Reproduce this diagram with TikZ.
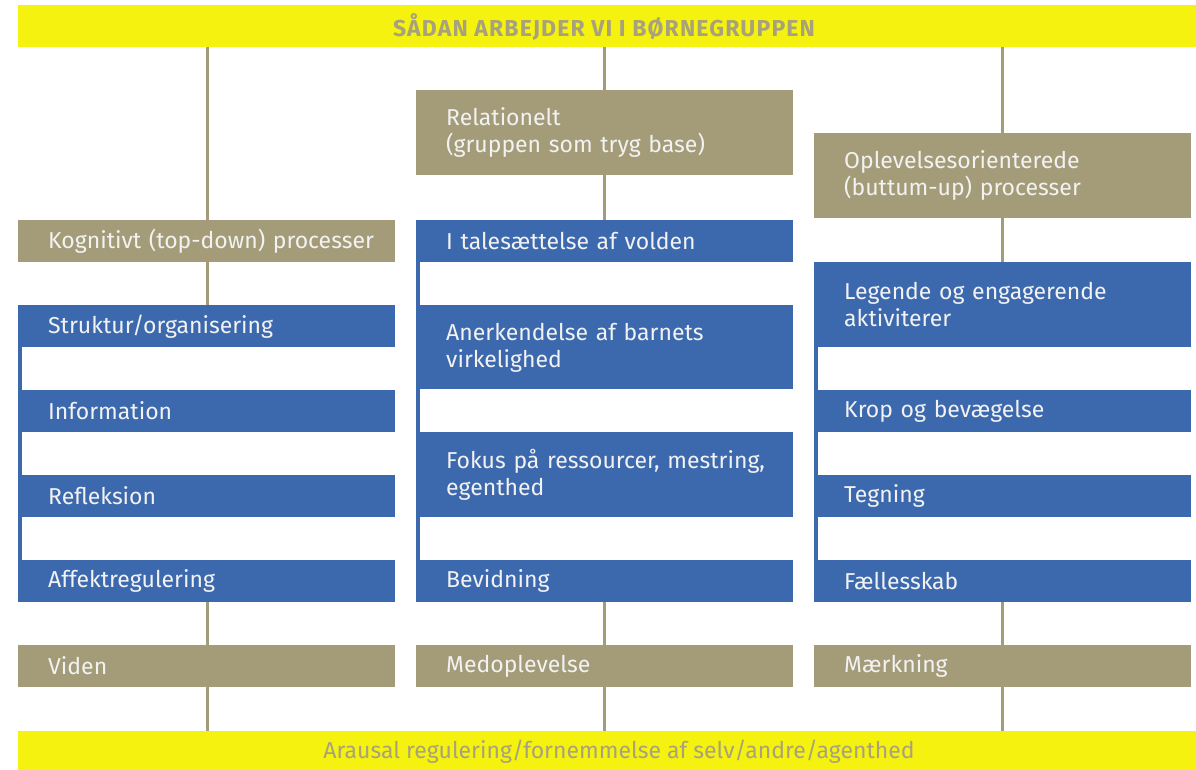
\documentclass[tikz,border=0pt]{standalone}
\usepackage{fontspec}
\setmainfont{Fira Sans}
\definecolor{bar}{HTML}{F5F20F}
\definecolor{taupe}{HTML}{A49C79}
\definecolor{bblue}{HTML}{3C69AE}
\definecolor{btext}{HTML}{F2F2F2}
\definecolor{titletext}{HTML}{A8A27C}
\begin{document}
\begin{tikzpicture}[x=1pt,y=-1pt,
  box/.style={anchor=north west, inner xsep=15pt, inner ysep=0pt, text width=347pt, align=left,
    execute at begin node={\leftskip=15pt\relax\rule[-2pt]{0pt}{20pt}},
    execute at end node={\rule[-2pt]{0pt}{20pt}},
    text=btext, font=\fontsize{23}{27}\selectfont, minimum height=#1},
  box/.default=42pt,
  tbox/.style={box=#1, fill=taupe},
  tbox/.default=42pt,
  bbox/.style={box=#1, fill=bblue},
  bbox/.default=42pt,
  tline/.style={draw=taupe, line width=3pt},
  bline/.style={draw=bblue, line width=3.5pt},
  bartext/.style={text=titletext, font=\fontsize{23}{27}\selectfont}]
\useasboundingbox (0,0) rectangle (1196,770);
\fill[bar] (18,5) rectangle (1196,47);
\node[bartext] (top) at (604,27) {\addfontfeature{LetterSpace=5}\bfseries SÅDAN ARBEJDER VI I BØRNEGRUPPEN};
\fill[bar] (18,731) rectangle (1196,770);
\node[bartext] (bot) at (619,752) {Arausal regulering/fornemmelse af selv/andre/agenthed};
\coordinate (t1) at (207,47); \coordinate (t2) at (604,47); \coordinate (t3) at (1002,47);
\coordinate (b1) at (207,731); \coordinate (b2) at (604,731); \coordinate (b3) at (1002,731);
% column 1
\node[tbox] (k) at (18,220) {Kognitivt (top-down) processer};
\node[bbox] (s) at (18,305) {Struktur/organisering};
\node[bbox] (i) at (18,390) {Information};
\node[bbox] (r) at (18,475) {Refleksion};
\node[bbox] (a) at (18,560) {Affektregulering};
\node[tbox] (v) at (18,645) {Viden};
% column 2
\node[tbox=85pt] (rel) at (416,90) {Relationelt\\(gruppen som tryg base)};
\node[bbox] (tal) at (416,220) {I talesættelse af volden};
\node[bbox=84pt] (ane) at (416,305) {Anerkendelse af barnets\\virkelighed};
\node[bbox=85pt] (fok) at (416,432) {Fokus på ressourcer, mestring,\\egenthed};
\node[bbox] (bev) at (416,560) {Bevidning};
\node[tbox] (med) at (416,645) {Medoplevelse};
% column 3
\node[tbox=85pt] (opl) at (814,133) {Oplevelsesorienterede\\(buttum-up) processer};
\node[bbox=85pt] (leg) at (814,262) {Legende og engagerende\\aktiviterer};
\node[bbox] (kro) at (814,390) {Krop og bevægelse};
\node[bbox] (teg) at (814,475) {Tegning};
\node[bbox] (fae) at (814,560) {Fællesskab};
\node[tbox] (mae) at (814,645) {Mærkning};
% taupe connectors
\draw[tline] (t1) -- (k.north -| t1);
\draw[tline] (k.south -| t1) -- (s.north -| t1);
\draw[tline] (a.south -| t1) -- (v.north -| t1);
\draw[tline] (v.south -| t1) -- (b1);
\draw[tline] (t2) -- (rel.north -| t2);
\draw[tline] (rel.south -| t2) -- (tal.north -| t2);
\draw[tline] (bev.south -| t2) -- (med.north -| t2);
\draw[tline] (med.south -| t2) -- (b2);
\draw[tline] (t3) -- (opl.north -| t3);
\draw[tline] (opl.south -| t3) -- (leg.north -| t3);
\draw[tline] (fae.south -| t3) -- (mae.north -| t3);
\draw[tline] (mae.south -| t3) -- (b3);
% blue connectors along left edge
\draw[bline] ([xshift=2pt]s.south west) -- ([xshift=2pt]a.north west);
\draw[bline] ([xshift=2pt]tal.south west) -- ([xshift=2pt]bev.north west);
\draw[bline] ([xshift=2pt]leg.south west) -- ([xshift=2pt]fae.north west);
\end{tikzpicture}
\end{document}
